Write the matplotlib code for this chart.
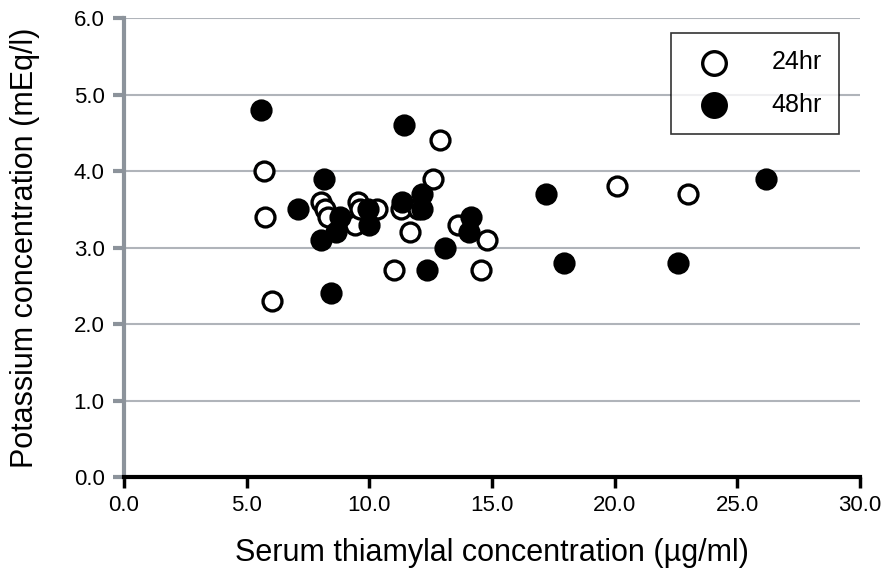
import matplotlib
matplotlib.use("Agg")
from matplotlib import pyplot as plt

# 24hr samples (open circles)
x_24 = [5.7, 5.75, 6.05, 8.05, 8.2, 8.3, 9.55, 9.4, 9.6, 10.3, 11.3, 11.65, 12.0,
        12.6, 12.9, 13.6, 14.8, 11.0, 14.55, 20.1, 23.0]
y_24 = [4.0, 3.4, 2.3, 3.6, 3.5, 3.4, 3.6, 3.3, 3.5, 3.5, 3.5, 3.2, 3.5,
        3.9, 4.4, 3.3, 3.1, 2.7, 2.7, 3.8, 3.7]

# 48hr samples (filled circles)
x_48 = [5.6, 7.1, 8.15, 8.8, 8.65, 8.05, 9.95, 10.0, 11.35, 11.4, 12.15, 12.15,
        14.15, 14.05, 13.1, 12.35, 8.45, 17.2, 17.95, 22.6, 26.15]
y_48 = [4.8, 3.5, 3.9, 3.4, 3.2, 3.1, 3.5, 3.3, 3.6, 4.6, 3.7, 3.5,
        3.4, 3.2, 3.0, 2.7, 2.4, 3.7, 2.8, 2.8, 3.9]

x_ticks = [0, 5, 10, 15, 20, 25, 30]
y_ticks = [0, 1, 2, 3, 4, 5, 6]

font = "Liberation Sans"

fig = plt.figure(figsize=(8.82, 5.68), dpi=100)
ax = fig.add_axes([0.1406, 0.1602, 0.8344, 0.8081])

ax.scatter(x_24, y_24, s=185, facecolors="white", edgecolors="black",
           linewidths=2.4, zorder=3, label="24hr")
ax.scatter(x_48, y_48, s=185, facecolors="black", edgecolors="black",
           linewidths=2.4, zorder=3, label="48hr")

ax.set_xlim(0, 30)
ax.set_ylim(0, 6)
ax.set_xticks(x_ticks)
ax.set_yticks(y_ticks)
ax.set_xticklabels(["%.1f" % v for v in x_ticks], fontfamily=font, fontsize=16)
ax.set_yticklabels(["%.1f" % v for v in y_ticks], fontfamily=font, fontsize=16)

ax.grid(axis="y", color="#b0b4ba", linewidth=1.5)
ax.set_axisbelow(True)

for s in ["top", "right"]:
    ax.spines[s].set_visible(False)
ax.spines["left"].set_color("#8c939b")
ax.spines["left"].set_linewidth(3)
ax.spines["bottom"].set_color("black")
ax.spines["bottom"].set_linewidth(3)
ax.spines["bottom"].set_zorder(4)

ax.tick_params(axis="y", direction="out", length=8, width=3, color="#8c939b", pad=6)
ax.tick_params(axis="x", direction="out", length=8, width=2.5, color="black", pad=5)

ax.set_xlabel("Serum thiamylal concentration (µg/ml)", fontfamily=font,
              fontsize=22, labelpad=16)
ax.set_ylabel("Potassium concentration (mEq/l)", fontfamily=font,
              fontsize=22, labelpad=24)

leg = ax.legend(loc="upper right", bbox_to_anchor=(0.972, 0.968), frameon=True,
                fancybox=False, prop={"family": font, "size": 18},
                markerscale=1.25, borderpad=0.7, labelspacing=0.75,
                handletextpad=1.3, borderaxespad=0)
leg.get_frame().set_edgecolor("black")
leg.get_frame().set_linewidth(1.2)

fig.savefig("out.png", dpi=100)
